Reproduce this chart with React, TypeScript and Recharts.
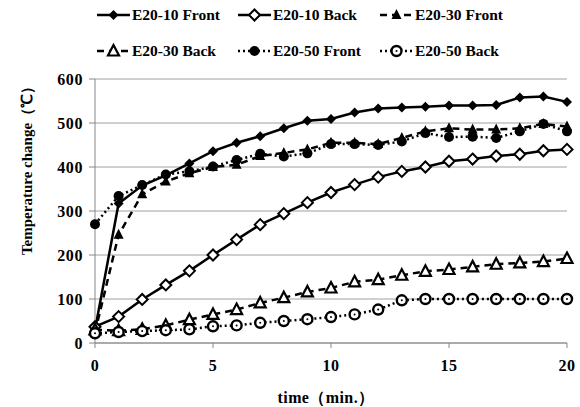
import React from 'react'
import { LineChart, Line, XAxis, YAxis, CartesianGrid, Legend, Label } from 'recharts'

// time (min.)
const TIME = [0, 1, 2, 3, 4, 5, 6, 7, 8, 9, 10, 11, 12, 13, 14, 15, 16, 17, 18, 19, 20]

const E20_10_FRONT = [30, 317, 358, 381, 408, 436, 455, 470, 488, 505, 509, 524, 533, 535, 537, 540, 540, 541, 558, 560, 548]
const E20_10_BACK = [37, 60, 99, 132, 164, 200, 235, 269, 294, 319, 342, 360, 377, 390, 400, 413, 418, 425, 429, 437, 440]
const E20_30_FRONT = [24, 246, 338, 367, 386, 400, 405, 425, 432, 440, 455, 455, 452, 466, 481, 488, 485, 485, 488, 498, 492]
const E20_30_BACK = [30, 28, 31, 40, 53, 65, 76, 91, 103, 116, 125, 139, 144, 154, 163, 167, 173, 179, 182, 185, 192]
const E20_50_FRONT = [270, 334, 359, 383, 390, 401, 416, 430, 424, 431, 452, 452, 450, 458, 477, 468, 469, 466, 481, 498, 481]
const E20_50_BACK = [22, 25, 27, 29, 31, 38, 40, 46, 50, 54, 59, 65, 76, 97, 100, 100, 100, 100, 100, 100, 100]

const Y_TICKS = [0, 100, 200, 300, 400, 500, 600]
const X_TICKS = [0, 5, 10, 15, 20]

const FONT = '"Liberation Serif", "Times New Roman", serif'

const SERIES = [
  { key: 'f10', name: 'E20-10 Front', values: E20_10_FRONT, dash: undefined, shape: 'diamondFilled' },
  { key: 'b10', name: 'E20-10 Back', values: E20_10_BACK, dash: undefined, shape: 'diamondOpen' },
  { key: 'f30', name: 'E20-30 Front', values: E20_30_FRONT, dash: '7 5', shape: 'triangleFilled' },
  { key: 'b30', name: 'E20-30 Back', values: E20_30_BACK, dash: '7 5', shape: 'triangleOpen' },
  { key: 'f50', name: 'E20-50 Front', values: E20_50_FRONT, dash: '2 3', shape: 'circleFilled' },
  { key: 'b50', name: 'E20-50 Back', values: E20_50_BACK, dash: '2 3', shape: 'circleOpen' },
]

const data = TIME.map((t, i) => {
  const row: any = { t }
  SERIES.forEach((s) => (row[s.key] = s.values[i]))
  return row
})

function Marker({ shape, cx, cy }: { shape: string; cx: number; cy: number }) {
  switch (shape) {
    case 'diamondFilled':
      return <path d={`M${cx},${cy - 5}L${cx + 5},${cy}L${cx},${cy + 5}L${cx - 5},${cy}Z`} fill="#000" />
    case 'diamondOpen':
      return (
        <path
          d={`M${cx},${cy - 5.5}L${cx + 5.5},${cy}L${cx},${cy + 5.5}L${cx - 5.5},${cy}Z`}
          fill="#fff"
          stroke="#000"
          strokeWidth={2}
        />
      )
    case 'triangleFilled':
      return <path d={`M${cx},${cy - 6}L${cx + 5},${cy + 4}L${cx - 5},${cy + 4}Z`} fill="#000" />
    case 'triangleOpen':
      return (
        <path
          d={`M${cx},${cy - 6}L${cx + 5.5},${cy + 4.5}L${cx - 5.5},${cy + 4.5}Z`}
          fill="#fff"
          stroke="#000"
          strokeWidth={2.2}
        />
      )
    case 'circleFilled':
      return <circle cx={cx} cy={cy} r={5} fill="#000" />
    default:
      return (
        <g>
          <circle cx={cx} cy={cy} r={5} fill="#fff" stroke="#000" strokeWidth={2.4} />
          <circle cx={cx} cy={cy} r={1} fill="#000" />
        </g>
      )
  }
}

const LEGEND_POS = [
  { left: 97, top: 15 },
  { left: 238, top: 15 },
  { left: 380, top: 15 },
  { left: 97, top: 51 },
  { left: 238, top: 51 },
  { left: 380, top: 51 },
]

const LEGEND_ORDER = ['f10', 'b10', 'f30', 'b30', 'f50', 'b50']

const CustomLegend = () => (
  <div style={{ position: 'relative', width: 580, height: 70 }}>
    {LEGEND_ORDER.map((k, i) => {
      const s = SERIES.find((x) => x.key === k)!
      const p = LEGEND_POS[i]
      return (
        <div
          key={k}
          style={{
            position: 'absolute',
            left: p.left,
            top: p.top - 10,
            height: 20,
            display: 'flex',
            alignItems: 'center',
            whiteSpace: 'nowrap',
          }}
        >
          <svg width={33} height={16} style={{ marginRight: 2 }}>
            <line x1={0} y1={8} x2={33} y2={8} stroke="#000" strokeWidth={2.5} strokeDasharray={s.dash} />
            <Marker shape={s.shape} cx={16.5} cy={8} />
          </svg>
          <span style={{ fontFamily: FONT, fontWeight: 'bold', fontSize: 15.5, color: '#000' }}>{s.name}</span>
        </div>
      )
    })}
  </div>
)

const tickStyle = { fontFamily: FONT, fontWeight: 'bold', fontSize: 16, letterSpacing: 0.6, fill: '#000' }

export default function App() {
  return (
    <div style={{ position: 'absolute', left: 0, top: 0, width: 580, height: 407, background: '#fff' }}>
      <LineChart width={580} height={407} data={data} margin={{ top: 79, right: 13, bottom: 0, left: 0 }}>
        <CartesianGrid vertical={false} stroke="#a0a0a0" strokeWidth={1} />
        <XAxis
          dataKey="t"
          type="number"
          domain={[0, 20]}
          ticks={X_TICKS}
          height={64}
          tick={tickStyle}
          tickSize={5}
          tickMargin={12}
          axisLine={{ stroke: '#888' }}
          tickLine={{ stroke: '#888' }}
        >
          <Label
            content={() => (
              <text
                x={326}
                y={397}
                textAnchor="middle"
                dominantBaseline="central"
                style={{ fontFamily: FONT, fontWeight: 'bold', fontSize: 16, letterSpacing: 0.4 }}
                fill="#000"
              >
                time（min.）
              </text>
            )}
          />
        </XAxis>
        <YAxis
          domain={[0, 600]}
          ticks={Y_TICKS}
          width={95}
          tick={tickStyle}
          tickSize={6}
          tickMargin={6}
          axisLine={{ stroke: '#888' }}
          tickLine={{ stroke: '#888' }}
        >
          <Label
            content={() => (
              <text
                transform="translate(27,167) rotate(-90)"
                textAnchor="middle"
                dominantBaseline="central"
                style={{ fontFamily: FONT, fontWeight: 'bold', fontSize: 15 }}
                fill="#000"
              >
                Temperature change（℃）
              </text>
            )}
          />
        </YAxis>
        <Legend
          layout="horizontal"
          verticalAlign="middle"
          align="center"
          content={<CustomLegend />}
          wrapperStyle={{ position: 'absolute', left: 0, top: 0, width: 580, height: 70 }}
        />
        {SERIES.map((s) => (
          <Line
            key={s.key}
            dataKey={s.key}
            name={s.name}
            stroke="#000"
            strokeWidth={2.5}
            strokeDasharray={s.dash}
            isAnimationActive={false}
            dot={(props: any) => <Marker key={`${s.key}-${props.index}`} shape={s.shape} cx={props.cx} cy={props.cy} />}
            activeDot={false}
          />
        ))}
      </LineChart>
    </div>
  )
}
